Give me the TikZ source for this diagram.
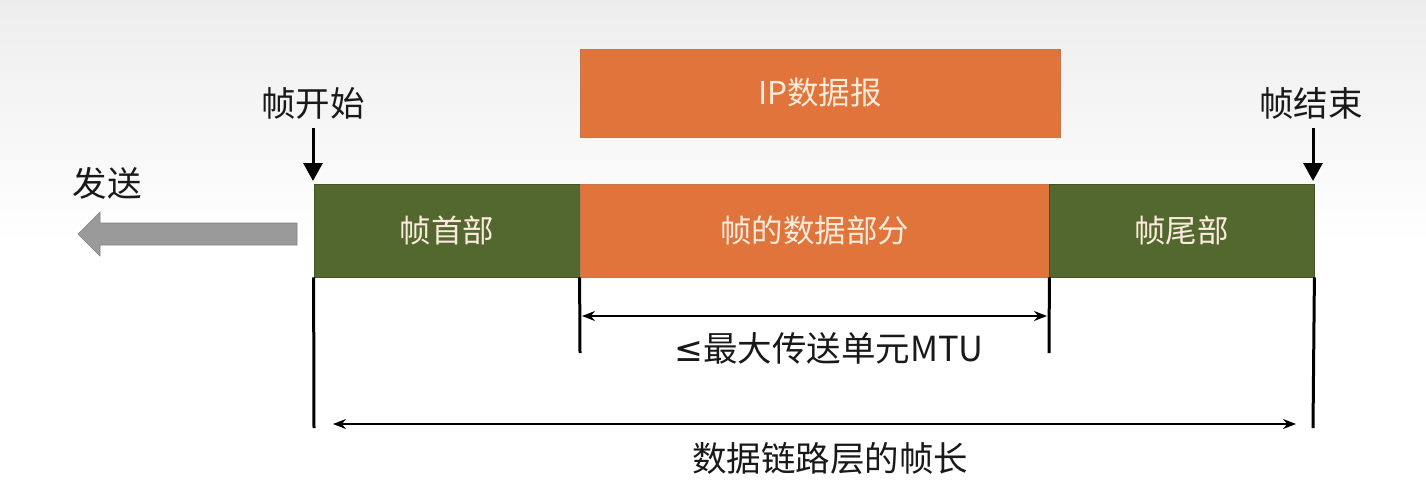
\documentclass[tikz,border=0pt]{standalone}
\usepackage{fontspec}
\setmainfont{Noto Sans CJK SC}
\newfontfamily\symfnt{DejaVu Sans}
\usetikzlibrary{arrows.meta}
\definecolor{frameorange}{HTML}{E0743A}
\definecolor{framegreen}{HTML}{53682F}
\definecolor{boxtext}{HTML}{FBEBDC}
\definecolor{sendgray}{HTML}{9A9A9A}
\tikzset{
  boxbase/.style={inner sep=0pt, text=boxtext, font=\fontsize{31.5}{36}\selectfont},
  greenbox/.style={boxbase, fill=framegreen, draw=framegreen!80!black, line width=0.8pt},
  orangebox/.style={boxbase, fill=frameorange, draw=frameorange!70!gray, line width=0.8pt},
  lbl/.style={inner sep=0pt, text=black!90, font=\fontsize{34.5}{40}\selectfont},
  tickline/.style={line width=3pt, black},
  downarrow/.style={line width=3pt, -{Triangle[length=18pt,width=19pt]}},
  dimline/.style={line width=1.6pt, {Stealth[length=13pt,width=10pt]}-{Stealth[length=13pt,width=10pt]}},
  blockarrow/.style={fill=sendgray, draw=sendgray!85!black, line width=0.6pt},
}
\begin{document}
\begin{tikzpicture}[x=1pt,y=-1pt]
\useasboundingbox (0,0) rectangle (1426,488);
\shade[top color=black!7, bottom color=white, middle color=white] (0,0) rectangle (1426,488);

% boxes
\node[orangebox, minimum width=480pt, minimum height=88pt] (ip) at (820,93) {IP数据报};
\node[greenbox, minimum width=266pt, minimum height=93pt] (hdr) at (447,230.5) {帧首部};
\node[orangebox, minimum width=469pt, minimum height=93pt] (data) at (814.5,230.5) {帧的数据部分};
\node[greenbox, minimum width=265pt, minimum height=93pt] (tail) at (1181.5,230.5) {帧尾部};

% start / end labels
\node[lbl] (start) at (313,103) {帧开始};
\node[lbl] (stop) at (1311,103) {帧结束};
\coordinate (starttop) at (313,128);
\coordinate (stoptop) at (1313,128);
\draw[downarrow] (starttop) -- (313,181);
\draw[downarrow] (stoptop) -- (1313,181);

% send arrow
\node[lbl] (send) at (107,183) {发送};
\draw[blockarrow] (297,223) -- (100,223) -- (100,212) -- (78,234) -- (100,256)
  -- (100,245) -- (297,245) -- cycle;

% ticks
\coordinate (t1) at (314,428);
\coordinate (t2) at (580,353);
\coordinate (t3) at (1049,353);
\coordinate (t4) at (1313,428);
\draw[tickline] (hdr.south west) -- (t1);
\draw[tickline] (data.south west) -- (t2);
\draw[tickline] (data.south east) -- (t3);
\draw[tickline] (tail.south east) -- (t4);

% dimension arrows
\coordinate (m1) at (582,316);
\coordinate (m2) at (1047,316);
\draw[dimline] (m1) -- (m2);
\node[lbl] (mtu) at (829,348) {{\symfnt ≤}最大传送单元MTU};

\coordinate (f1) at (333,424);
\coordinate (f2) at (1296,424);
\draw[dimline] (f1) -- (f2);
\node[lbl] (flen) at (830,458) {数据链路层的帧长};
\end{tikzpicture}
\end{document}
